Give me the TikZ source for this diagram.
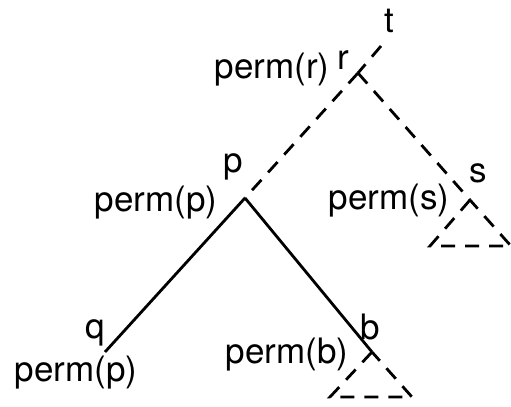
\documentclass[tikz,border=0pt]{standalone}
\usepackage{fontspec}
\setmainfont{TeX Gyre Heros}
\usetikzlibrary{positioning}
\tikzset{edge/.style={line width=1.4pt}, hidden/.style={edge,dash pattern=on 7pt off 5pt}, lbl/.style={font=\fontsize{17.5}{21}\selectfont,inner sep=0pt,anchor=center}}

\begin{document}
\begin{tikzpicture}[x=0.5pt,y=-0.5pt]
\useasboundingbox (0,0) rectangle (511,407);
\coordinate (top) at (381,46);
\coordinate (r) at (358,73);
\coordinate (p) at (245,198);
\coordinate (q) at (105,352);
\coordinate (b) at (372,352);
\coordinate (s) at (470,200);
\coordinate (sl) at (430,246);
\coordinate (sr) at (511,246);
\coordinate (bl) at (330,397);
\coordinate (br) at (412,397);
\node[lbl] (tlab) at (389,21) {t};
\node[lbl] (rlab) at (343,60) {r};
\node[lbl] (permr) at (272,70) {perm(r)};
\node[lbl] (plab) at (233,167) {p};
\node[lbl] (permp) at (156,203) {perm(p)};
\node[lbl] (qlab) at (95,333) {q};
\node[lbl] (permq) at (76,373) {perm(p)};
\node[lbl] (blab) at (370,327) {b};
\node[lbl] (permb) at (287,355) {perm(b)};
\node[lbl] (slab) at (478,173) {s};
\node[lbl] (perms) at (389,201) {perm(s)};
\draw[hidden] (top)--(r);
\draw[hidden] (r)--(p);
\draw[hidden] (r)--(s);
\draw[edge] (p)--(q);
\draw[edge] (p)--(b);
\draw[hidden] (s)--(sl)--(sr)--cycle;
\draw[hidden] (b)--(bl)--(br)--cycle;
\end{tikzpicture}
\end{document}
